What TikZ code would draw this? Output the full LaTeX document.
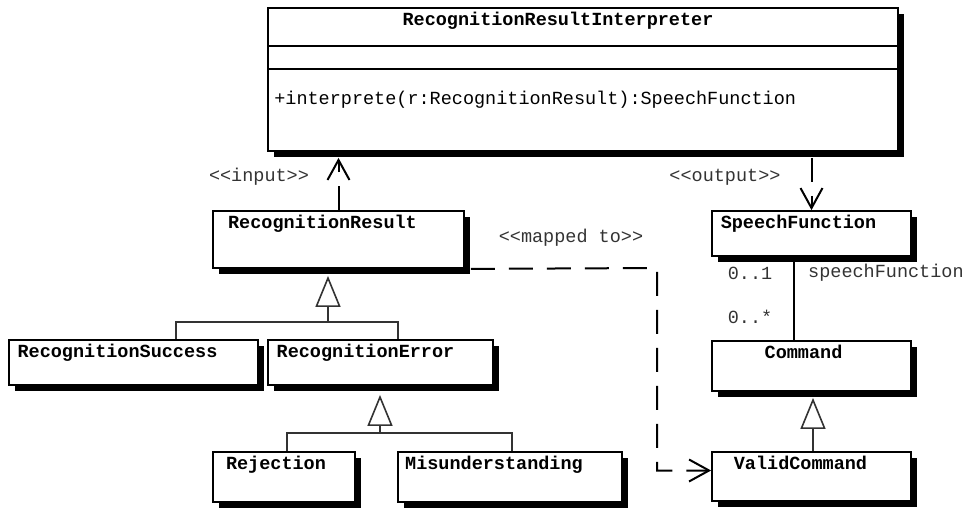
\documentclass[tikz,border=0pt]{standalone}
\usepackage{fontspec}
\setmonofont{Liberation Mono}
\usetikzlibrary{arrows.meta,shadows}

\begin{document}
\begin{tikzpicture}[x=1pt,y=-1pt,font=\ttfamily\fontsize{18.5}{22}\selectfont,
  cls/.style={draw,fill=white,line width=1.8pt,inner sep=0pt,
    drop shadow={shadow xshift=6pt,shadow yshift=-6pt,opacity=1,fill=black}},
  clsname/.style={font=\ttfamily\bfseries\fontsize{18.5}{22}\selectfont,inner sep=0pt,anchor=base},
  lbl/.style={inner sep=0pt,text=black!80},
  dep/.style={line width=2pt,dash pattern=on 24pt off 14pt,
    -{Straight Barb[length=20pt,width=22pt,line width=2pt]}},
  genline/.style={line width=1.6pt,draw=black!80},
  gen/.style={genline,-{Triangle[open,length=31pt,width=25pt,fill=white,line width=1.6pt]}},
  assoc/.style={line width=1.6pt}]
\useasboundingbox (0,0) rectangle (964,507);

% classes
\node[cls,minimum width=630pt,minimum height=143pt] (interp) at (583,79.5) {};
\node[cls,minimum width=251pt,minimum height=57pt] (result) at (338.5,239.5) {};
\node[cls,minimum width=249pt,minimum height=45pt] (success) at (133.5,362.5) {};
\node[cls,minimum width=225pt,minimum height=45pt] (error) at (380.5,362.5) {};
\node[cls,minimum width=142pt,minimum height=50pt] (reject) at (284,477) {};
\node[cls,minimum width=224pt,minimum height=50pt] (misund) at (510,477) {};
\node[cls,minimum width=199pt,minimum height=45pt] (speech) at (811.5,233.5) {};
\node[cls,minimum width=199pt,minimum height=50pt] (command) at (811.5,366) {};
\node[cls,minimum width=199pt,minimum height=49pt] (valid) at (811.5,476.5) {};

% names
\node[clsname] (interp-t) at ([xshift=-25pt,yshift=-18pt]interp.north) {RecognitionResultInterpreter};
\node[clsname] (result-t) at ([xshift=-16pt,yshift=-18pt]result.north) {RecognitionResult};
\node[clsname] (success-t) at ([xshift=-16pt,yshift=-18pt]success.north) {RecognitionSuccess};
\node[clsname] (error-t) at ([xshift=-15pt,yshift=-18pt]error.north) {RecognitionError};
\node[clsname] (reject-t) at ([xshift=-8pt,yshift=-18pt]reject.north) {Rejection};
\node[clsname] (misund-t) at ([xshift=-16pt,yshift=-18pt]misund.north) {Misunderstanding};
\node[clsname] (speech-t) at ([xshift=-13pt,yshift=-18pt]speech.north) {SpeechFunction};
\node[clsname] (command-t) at ([xshift=-8pt,yshift=-18pt]command.north) {Command};
\node[clsname] (valid-t) at ([xshift=-11pt,yshift=-18pt]valid.north) {ValidCommand};

% compartments of the interpreter
\draw[line width=1.8pt] ([yshift=-39pt]interp.north west) -- ([yshift=-39pt]interp.north east);
\draw[line width=1.8pt] ([yshift=-62pt]interp.north west) -- ([yshift=-62pt]interp.north east);
\node[inner sep=0pt,anchor=base west] (interp-op) at ([xshift=7pt,yshift=-97pt]interp.north west)
  {+interprete(r:RecognitionResult):SpeechFunction};

% dependencies
\draw[dep] (result.north) -- ([yshift=-6pt]interp.south -| result.north);
\draw[dep] ([yshift=-6pt]interp.south -| speech.north) -- (speech.north);
\coordinate (mapc) at (657,268);
\draw[dep] ([xshift=6pt]result.south east) -- (mapc) |- ([yshift=6pt]valid.west);
\node[lbl] (in-l) at (259,177) {<<input>>};
\node[lbl] (out-l) at (725,177) {<<output>>};
\node[lbl] (map-l) at (571,238) {<<mapped to>>};

% generalisations
\coordinate (g1) at (328,322);
\coordinate (g1l) at (176,322);
\coordinate (g1r) at (398,322);
\draw[gen] (g1) -- ([yshift=-7pt]result.south -| g1);
\draw[genline] (g1l |- success.north) -- (g1l) -- (g1r) -- (g1r |- error.north);
\coordinate (g2) at (380,433);
\coordinate (g2l) at (287,433);
\coordinate (g2r) at (512,433);
\draw[gen] (g2) -- ([yshift=-9pt]error.south -| g2);
\draw[genline] (g2l |- reject.north) -- (g2l) -- (g2r) -- (g2r |- misund.north);
\draw[gen] ([xshift=1.5pt]valid.north) -- ([xshift=1.5pt,yshift=-6pt]command.south);

% association
\draw[assoc] ([xshift=-17.5pt]speech.south) -- ([xshift=-17.5pt]command.north);
\node[lbl] (m-one) at (750,273) {0..1};
\node[lbl,anchor=west] (role) at (808,273) {speechFunction};
\node[lbl] (m-many) at (750,317) {0..*};
\end{tikzpicture}
\end{document}
